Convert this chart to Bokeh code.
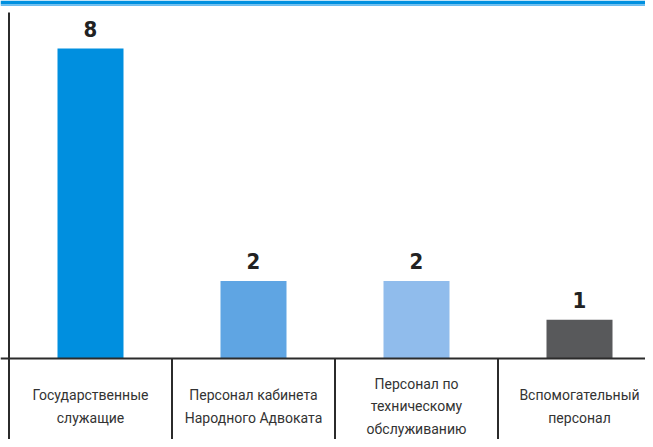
from bokeh.plotting import figure
from bokeh.models import Range1d, ColumnDataSource, Span
from bokeh.core.properties import value
from bokeh.embed import file_html
from bokeh.resources import INLINE

categories = ["Государственные\nслужащие",
              "Персонал кабинета\nНародного Адвоката",
              "Персонал по\nтехническому\nобслуживанию",
              "Вспомогательный\nперсонал"]
values = [8, 2, 2, 1]
colors = ["#008fdf", "#5fa5e3", "#90bcec", "#58595b"]
value_labels = [str(v) for v in values]

W, H = 645, 439
band_px = 163
unit_px = 38.75
left_px = 8.5   # position of left line from figure left
base_px = 358   # baseline position from figure top
x_start = -left_px / band_px
x_end = (W - left_px) / band_px
y_max = base_px / unit_px
y_min = -(H - base_px) / unit_px

xs = [i + 0.5 for i in range(len(categories))]
src = ColumnDataSource(dict(x=xs, top=values, color=colors,
                            lab=value_labels, cat=categories,
                            cy=[-48 / unit_px] * len(categories)))

p = figure(width=W, height=H, output_backend="svg", toolbar_location=None,
           x_range=Range1d(x_start, x_end), y_range=Range1d(y_min, y_max),
           min_border=0, min_border_left=0, min_border_right=0,
           min_border_top=0, min_border_bottom=0)
p.axis.visible = False
p.grid.visible = False
p.outline_line_color = None

p.vbar(x="x", top="top", bottom=0, width=66 / band_px, color="color",
       line_color=None, source=src)

p.text(x="x", y="top", text="lab", source=src, text_align="center",
       text_baseline="bottom", y_offset=-12,
       text_font=value("DejaVu Sans Condensed"),
       text_font_style="bold", text_font_size="22px", text_color="#222222")

p.text(x="x", y="cy", text="cat", source=src, text_align="center",
       text_baseline="middle", text_font=value("Roboto"), text_font_size="14px",
       text_color="#333333", text_line_height=1.42)

# baseline and separators
p.add_layout(Span(location=0, dimension="width", line_color="#2b2b2b", line_width=2))
p.segment(x0=[0.0, 1.0, 2.0, 3.0], y0=[(base_px - 12) / unit_px, 0, 0, 0],
          x1=[0.0, 1.0, 2.0, 3.0], y1=[y_min] * 4,
          line_color="#2b2b2b", line_width=2)

# top stripe
p.add_layout(Span(location=y_max - 2 / unit_px, dimension="width",
                  line_color="#0090e0", line_width=4))
p.add_layout(Span(location=y_max - 4.8 / unit_px, dimension="width",
                  line_color="#6cbcf0", line_width=1.5))

open("out.html", "w").write(file_html(p, INLINE))
